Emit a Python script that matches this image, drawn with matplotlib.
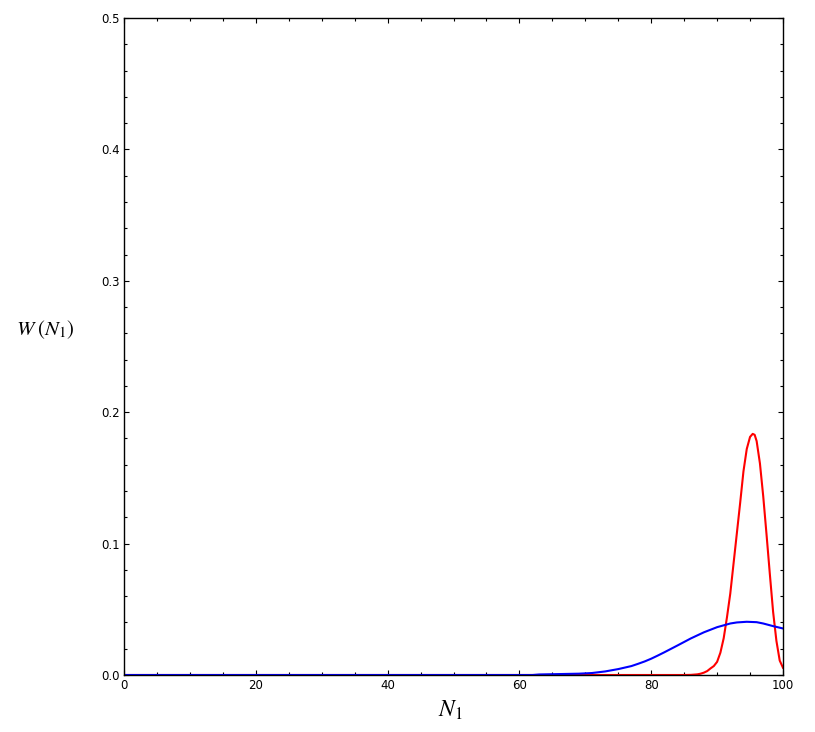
import numpy as np
import matplotlib.pyplot as plt
from matplotlib.ticker import MultipleLocator, FormatStrFormatter

plt.rcParams['mathtext.fontset'] = 'stix'

# red curve (narrow peak)
n_red = [0, 85, 86, 87, 87.5, 88, 88.5, 89, 89.5, 90, 90.5, 91, 91.5, 92, 92.5,
         93, 93.5, 94, 94.5, 95, 95.4, 95.7, 96, 96.5, 97, 97.5, 98, 98.5, 99,
         99.5, 100]
w_red = [0, 0, 0.0001, 0.0005, 0.001, 0.0018, 0.003, 0.005, 0.0068, 0.010,
         0.017, 0.028, 0.044, 0.062, 0.085, 0.108, 0.131, 0.155, 0.172, 0.1812,
         0.1835, 0.1828, 0.178, 0.161, 0.136, 0.107, 0.077, 0.048, 0.026, 0.011,
         0.0055]

# blue curve (broad peak)
n_blue = [0, 62, 63, 66, 69, 71, 73, 75, 77, 78, 79, 80, 81, 82, 83, 84, 86,
          88, 90, 92, 93, 94.5, 96, 97, 98.5, 100]
w_blue = [0, 0, 0.0004, 0.0007, 0.001, 0.0015, 0.0027, 0.0045, 0.0068, 0.0085,
          0.0103, 0.0124, 0.0148, 0.0173, 0.0199, 0.0225, 0.0278, 0.0325,
          0.0364, 0.0392, 0.0400, 0.0405, 0.0402, 0.0392, 0.0372, 0.0354]

fig = plt.figure(figsize=[8.15, 7.32], dpi=100)
ax = fig.add_axes([124/815, 57/732, 659/815, 657/732])

ax.plot(n_red, w_red, color='red', lw=1.5)
ax.plot(n_blue, w_blue, color='blue', lw=1.5)

ax.set_xlim(0, 100)
ax.set_ylim(0, 0.5)
ax.xaxis.set_major_locator(MultipleLocator(20))
ax.xaxis.set_minor_locator(MultipleLocator(5))
ax.yaxis.set_major_locator(MultipleLocator(0.1))
ax.yaxis.set_minor_locator(MultipleLocator(0.02))
ax.yaxis.set_major_formatter(FormatStrFormatter('%.1f'))
ax.tick_params(which='both', direction='in', top=True, right=True,
               labeltop=False, labelright=False, width=0.8, labelsize=8.5)
ax.tick_params(which='major', length=3.5, pad=3)
ax.tick_params(which='minor', length=2)
for s in ax.spines.values():
    s.set_linewidth(1.0)

fig.text(45/815, 1 - 330/732, r'$W\;(N_1)$', fontsize=15, ha='center', va='center')
fig.text(450/815, 1 - 710/732, r'$N_1$', fontsize=17, ha='center', va='center')

plt.savefig('out.png', dpi=100)
